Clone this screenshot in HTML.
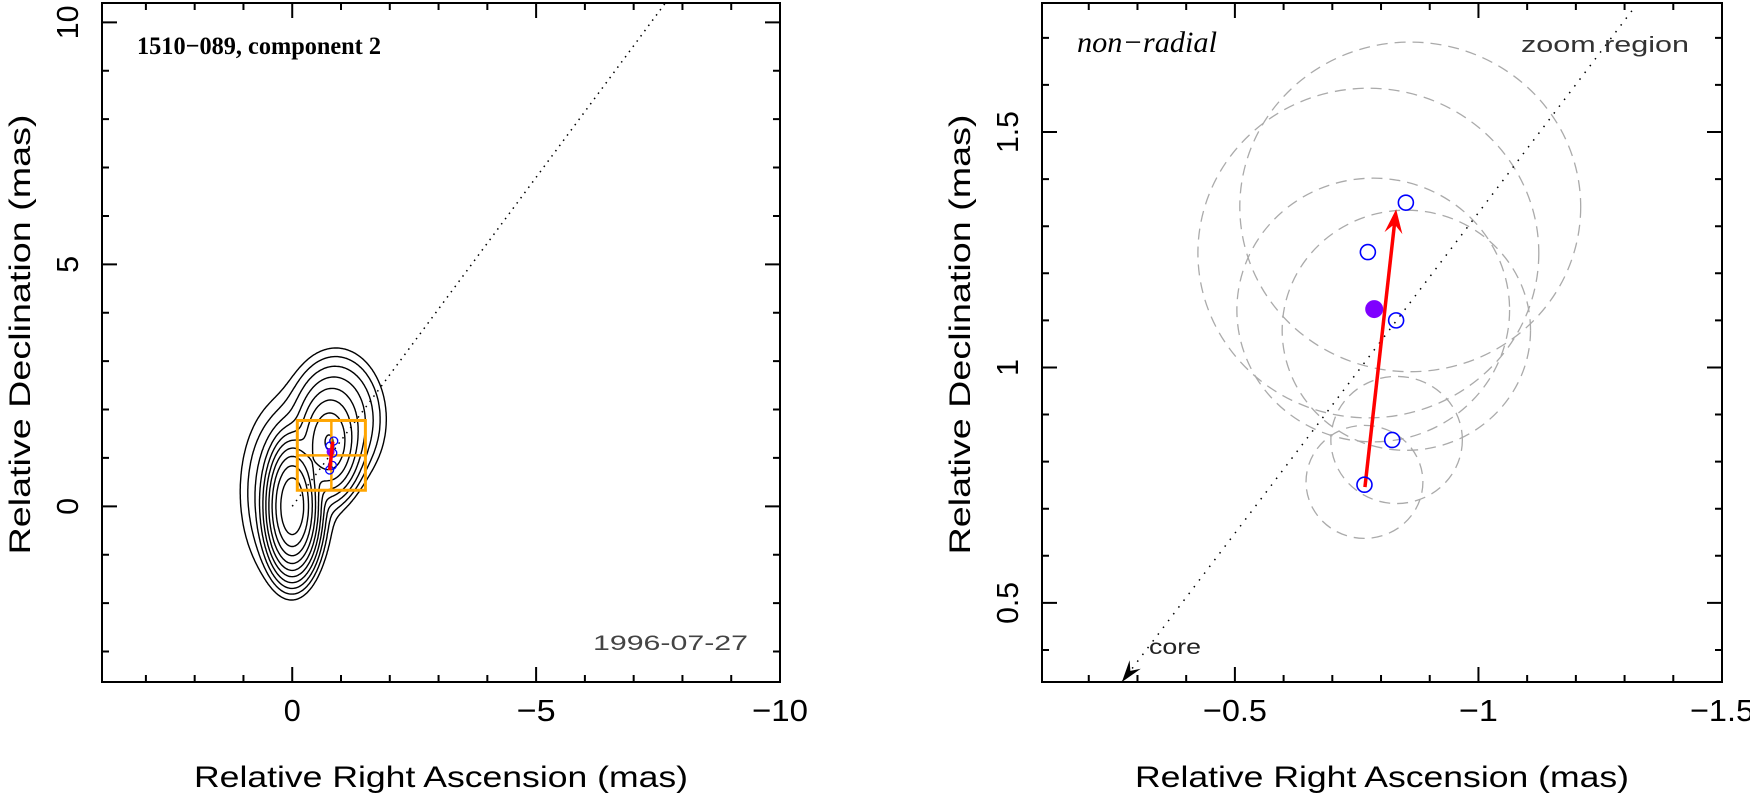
<!DOCTYPE html>
<html><head><meta charset="utf-8"><style>
html,body{margin:0;padding:0;background:#fff;}
svg{display:block;}
text{font-family:"Liberation Sans",sans-serif;}
</style></head><body>
<svg id="fig" width="1750" height="797" viewBox="0 0 1750 797" xmlns="http://www.w3.org/2000/svg">
  <g id="left"></g>
  <g id="right"></g>
</svg>
<script>
// ---- data ----
var ptX = [-0.851, -0.773, -0.831, -0.823, -0.766];
var ptY = [1.350, 1.245, 1.100, 0.846, 0.751];
var meanX = [-0.786];
var meanY = [1.124];
var arrowX = [-0.767, -0.831];
var arrowY = [0.746, 1.336];
var circX = [-0.860, -0.774, -0.784, -0.852, -0.766, -0.832];
var circY = [1.341, 1.243, 1.122, 1.079, 0.757, 0.846];
var circR = [0.35, 0.35, 0.28, 0.255, 0.12, 0.135];
var jetLeftX = [0, -7.9];
var jetLeftY = [0, 10.74];
var jetRightX = [-0.268, -1.322];
var jetRightY = [0.332, 1.767];
// contour model components
var compX = [0, -0.75, -0.9, 0.1];
var compY = [0, 1.3, 1.8, 0.3];
var compA = [1, 0.12, 0.02, 0.01];
var compSX = [0.2, 0.25, 0.42, 0.45];
var compSY = [0.5, 0.45, 0.6, 0.9];
var levels = [0.001,0.002,0.004,0.008,0.016,0.032,0.064,0.128,0.256,0.512];
var leftXTicksMajor = [0, -5, -10];
var leftYTicksMajor = [0, 5, 10];
var rightXTicksMajor = [-0.5, -1, -1.5];
var rightYTicksMajor = [0.5, 1, 1.5];
var leftXLabels = ["0", "\u22125", "\u221210"];
var leftYLabels = ["0", "5", "10"];
var rightXLabels = ["\u22120.5", "\u22121", "\u22121.5"];
var rightYLabels = ["0.5", "1", "1.5"];

var NS = "http://www.w3.org/2000/svg";
function mk(parent, tag, attrs){
  var e = document.createElementNS(NS, tag);
  for (var k in attrs) e.setAttribute(k, attrs[k]);
  parent.appendChild(e);
  return e;
}
function lin(d0,d1,r0,r1){ return function(v){ return r0 + (v-d0)/(d1-d0)*(r1-r0); }; }
function labW(s){ var w=0; for (var i=0;i<s.length;i++){ var ch=s[i]; w += (ch==='.')?8:(ch==='\u2212'?22:17); } return w; }

var L = {x0:102, x1:780, y0:3, y1:682, sx:lin(3.9,-10,102,780), sy:lin(-3.63,10.4,682,3)};
var R = {x0:1042, x1:1722, y0:3, y1:682, sx:lin(-0.104,-1.5,1042,1722), sy:lin(0.332,1.774,682,3)};

function axes(g, P, xmin, xmax, ymin, ymax, minorStep, xMaj, yMaj, xLab, yLab, name){
  var cx = (P.x0+P.x1)/2, cy = (P.y0+P.y1)/2;
  var fr = mk(g,'rect',{x:P.x0,y:P.y0,width:P.x1-P.x0,height:P.y1-P.y0,fill:'none',stroke:'#000','stroke-width':2});
  
  
  var d = '';
  var n0 = Math.ceil(Math.min(xmin,xmax)/minorStep-1e-6), n1 = Math.floor(Math.max(xmin,xmax)/minorStep+1e-6);
  for (var i=n0;i<=n1;i++){
    var v = i*minorStep, px = P.sx(v);
    var major = xMaj.some(function(m){return Math.abs(m-v)<1e-6;});
    var len = major?15:7;
    d += 'M'+px+' '+P.y1+'v'+(-len)+'M'+px+' '+P.y0+'v'+len;
  }
  n0 = Math.ceil(Math.min(ymin,ymax)/minorStep-1e-6); n1 = Math.floor(Math.max(ymin,ymax)/minorStep+1e-6);
  for (var j=n0;j<=n1;j++){
    var w = j*minorStep, py = P.sy(w);
    var maj = yMaj.some(function(m){return Math.abs(m-w)<1e-6;});
    var ln = maj?15:7;
    d += 'M'+P.x0+' '+py+'h'+ln+'M'+P.x1+' '+py+'h'+(-ln);
  }
  var tk = mk(g,'path',{d:d,stroke:'#000','stroke-width':2,fill:'none'});
  
  
  xMaj.forEach(function(v,k){
    var t = mk(g,'text',{x:P.sx(v),y:721,'font-size':31,'text-anchor':'middle',textLength:labW(xLab[k]),lengthAdjust:'spacingAndGlyphs'});
    t.textContent = xLab[k];
    
    
  });
  yMaj.forEach(function(v,k){
    var x = P.x0-24, y = P.sy(v);
    var t = mk(g,'text',{x:x,y:y,'font-size':31,'text-anchor':'middle',textLength:labW(yLab[k]),lengthAdjust:'spacingAndGlyphs',transform:'rotate(-90 '+x+' '+y+')'});
    t.textContent = yLab[k];
    
    
  });
  var xt = mk(g,'text',{x:cx,y:787,'font-size':30,'text-anchor':'middle',textLength:494,lengthAdjust:'spacingAndGlyphs'});
  xt.textContent = 'Relative Right Ascension (mas)';
  
  
  var yx = P.x0-72;
  var yt = mk(g,'text',{x:yx,y:cy-8,'font-size':30,'text-anchor':'middle',textLength:440,lengthAdjust:'spacingAndGlyphs',transform:'rotate(-90 '+yx+' '+(cy-8)+')'});
  yt.textContent = 'Relative Declination (mas)';
  
  
}

var gl = document.getElementById('left'), gr = document.getElementById('right');

var defs = mk(document.getElementById('fig'),'defs',{});
var cpL = mk(defs,'clipPath',{id:'clipL'}); mk(cpL,'rect',{x:L.x0,y:L.y0,width:L.x1-L.x0,height:L.y1-L.y0});
var cpR = mk(defs,'clipPath',{id:'clipR'}); mk(cpR,'rect',{x:R.x0,y:R.y0,width:R.x1-R.x0,height:R.y1-R.y0});

var jl = mk(gl,'line',{x1:L.sx(jetLeftX[0]),y1:L.sy(jetLeftY[0]),x2:L.sx(jetLeftX[1]),y2:L.sy(jetLeftY[1]),stroke:'#000','stroke-width':1.5,'stroke-dasharray':'1.5 5','clip-path':'url(#clipL)'});



function model(x,y){
  var s=0;
  for (var i=0;i<compA.length;i++){
    var dx=x-compX[i], dy=y-compY[i];
    s += compA[i]*Math.exp(-(dx*dx/(2*compSX[i]*compSX[i]) + dy*dy/(2*compSY[i]*compSY[i])));
  }
  return s;
}
(function(){
  var gx0=-2.7, gx1=1.7, gy0=-2.8, gy1=4.2, st=0.03;
  var nx=Math.round((gx1-gx0)/st), ny=Math.round((gy1-gy0)/st);
  var V=[];
  for (var j=0;j<=ny;j++){ V[j]=[]; for (var i=0;i<=nx;i++) V[j][i]=model(gx0+i*st, gy0+j*st); }
  var cg = mk(gl,'g',{});
  
  
  levels.forEach(function(lv){
    var d='';
    function pt(a,b,ia,ja,ib,jb){
      var t=(lv-a)/(b-a);
      var x=gx0+(ia+(ib-ia)*t)*st, y=gy0+(ja+(jb-ja)*t)*st;
      return [L.sx(x).toFixed(1), L.sy(y).toFixed(1)];
    }
    for (var j=0;j<ny;j++) for (var i=0;i<nx;i++){
      var a=V[j][i], b=V[j][i+1], c=V[j+1][i+1], e=V[j+1][i];
      var P=[];
      if ((a<lv)!==(b<lv)) P.push(pt(a,b,i,j,i+1,j));
      if ((b<lv)!==(c<lv)) P.push(pt(b,c,i+1,j,i+1,j+1));
      if ((c<lv)!==(e<lv)) P.push(pt(c,e,i+1,j+1,i,j+1));
      if ((e<lv)!==(a<lv)) P.push(pt(e,a,i,j+1,i,j));
      if (P.length>=2) d+='M'+P[0][0]+' '+P[0][1]+'L'+P[1][0]+' '+P[1][1];
      if (P.length===4) d+='M'+P[2][0]+' '+P[2][1]+'L'+P[3][0]+' '+P[3][1];
    }
    var p = mk(cg,'path',{d:d,stroke:'#000','stroke-width':1.4,fill:'none','stroke-linecap':'round'});
    
    
  });
})();

(function(){
  var x0=L.sx(-0.104), x1=L.sx(-1.5), y0=L.sy(1.774), y1=L.sy(0.332);
  var b = mk(gl,'rect',{x:x0,y:y0,width:x1-x0,height:y1-y0,fill:'none',stroke:'#ffa500','stroke-width':3});
  
  
  var c = mk(gl,'path',{d:'M'+(x0+x1)/2+' '+y0+'V'+y1+'M'+x0+' '+(y0+y1)/2+'H'+x1,stroke:'#ffa500','stroke-width':2.5,fill:'none'});
  
  
})();
ptX.forEach(function(x,i){
  var c = mk(gl,'circle',{cx:L.sx(x),cy:L.sy(ptY[i]),r:4,fill:'none',stroke:'#0000ff','stroke-width':1.3});
  
  
});
var ml = mk(gl,'circle',{cx:L.sx(meanX[0]),cy:L.sy(meanY[0]),r:4,fill:'#7f00ff'});


var al = mk(gl,'line',{x1:L.sx(arrowX[0]),y1:L.sy(arrowY[0]),x2:L.sx(arrowX[1]),y2:L.sy(arrowY[1]),stroke:'#ff0000','stroke-width':3.5});



axes(gl, L, 3.9, -10, -3.63, 10.4, 1, leftXTicksMajor, leftYTicksMajor, leftXLabels, leftYLabels, 'left');
var t1 = mk(gl,'text',{x:137,y:54,'font-size':25,'font-weight':'bold',textLength:244,lengthAdjust:'spacingAndGlyphs',style:'font-family:"Liberation Serif",serif'});
t1.textContent = '1510\u2212089, component 2';


var t2 = mk(gl,'text',{x:593,y:650,'font-size':21,textLength:155,lengthAdjust:'spacingAndGlyphs',fill:'#444'});
t2.textContent = '1996-07-27';



// ---------- RIGHT PANEL ----------
var sxr = 487, syr = 470.9;
circX.forEach(function(x,i){
  var e = mk(gr,'ellipse',{cx:R.sx(x),cy:R.sy(circY[i]),rx:circR[i]*sxr,ry:circR[i]*syr,fill:'none',stroke:'#aaaaaa','stroke-width':1.3,'stroke-dasharray':'11 7','clip-path':'url(#clipR)'});
  
  
});
var jr = mk(gr,'line',{x1:R.sx(jetRightX[0]),y1:R.sy(jetRightY[0]),x2:R.sx(jetRightX[1]),y2:R.sy(jetRightY[1]),stroke:'#000','stroke-width':1.5,'stroke-dasharray':'1.5 7','clip-path':'url(#clipR)'});


(function(){
  var tx=R.sx(jetRightX[0]), ty=R.sy(jetRightY[0]);
  var dx=R.sx(jetRightX[1])-tx, dy=R.sy(jetRightY[1])-ty, m=Math.hypot(dx,dy); dx/=m; dy/=m;
  var L1=22, W=7;
  var bx=tx+dx*L1, by=ty+dy*L1, nx=-dy, ny=dx;
  var h = mk(gr,'path',{d:'M'+tx+' '+ty+'L'+(bx+nx*W)+' '+(by+ny*W)+'L'+(tx+dx*14)+' '+(ty+dy*14)+'L'+(bx-nx*W)+' '+(by-ny*W)+'Z',fill:'#000'});
  
  
})();
var tc = mk(gr,'text',{x:1149,y:654,'font-size':21,textLength:52,lengthAdjust:'spacingAndGlyphs',fill:'#222'});
tc.textContent = 'core';



(function(){
  var x0=R.sx(arrowX[0]), y0=R.sy(arrowY[0]), x1=R.sx(arrowX[1]), y1=R.sy(arrowY[1]);
  var dx=x1-x0, dy=y1-y0, m=Math.hypot(dx,dy); dx/=m; dy/=m;
  var a = mk(gr,'line',{x1:x0,y1:y0,x2:x1-dx*12,y2:y1-dy*12,stroke:'#ff0000','stroke-width':3.5});
  
  
  var nx=-dy, ny=dx, bx=x1-dx*24, by=y1-dy*24;
  var h = mk(gr,'path',{d:'M'+x1+' '+y1+'L'+(bx+nx*9)+' '+(by+ny*9)+'L'+(x1-dx*15)+' '+(y1-dy*15)+'L'+(bx-nx*9)+' '+(by-ny*9)+'Z',fill:'#ff0000'});
  
  
})();
ptX.forEach(function(x,i){
  var c = mk(gr,'circle',{cx:R.sx(x),cy:R.sy(ptY[i]),r:7.5,fill:'none',stroke:'#0000ff','stroke-width':1.6});
  
  
});
var mr = mk(gr,'circle',{cx:R.sx(meanX[0]),cy:R.sy(meanY[0]),r:9,fill:'#7f00ff'});



axes(gr, R, -0.104, -1.5, 0.332, 1.774, 0.1, rightXTicksMajor, rightYTicksMajor, rightXLabels, rightYLabels, 'right');
var t3 = mk(gr,'text',{x:1077,y:52,'font-size':30,'font-style':'italic',textLength:140,lengthAdjust:'spacingAndGlyphs',style:'font-family:"Liberation Serif",serif'});
t3.textContent = 'non\u2212radial';


var t4 = mk(gr,'text',{x:1521,y:52,'font-size':22,textLength:168,lengthAdjust:'spacingAndGlyphs',fill:'#333'});
t4.textContent = 'zoom region';


</script>
</body></html>
